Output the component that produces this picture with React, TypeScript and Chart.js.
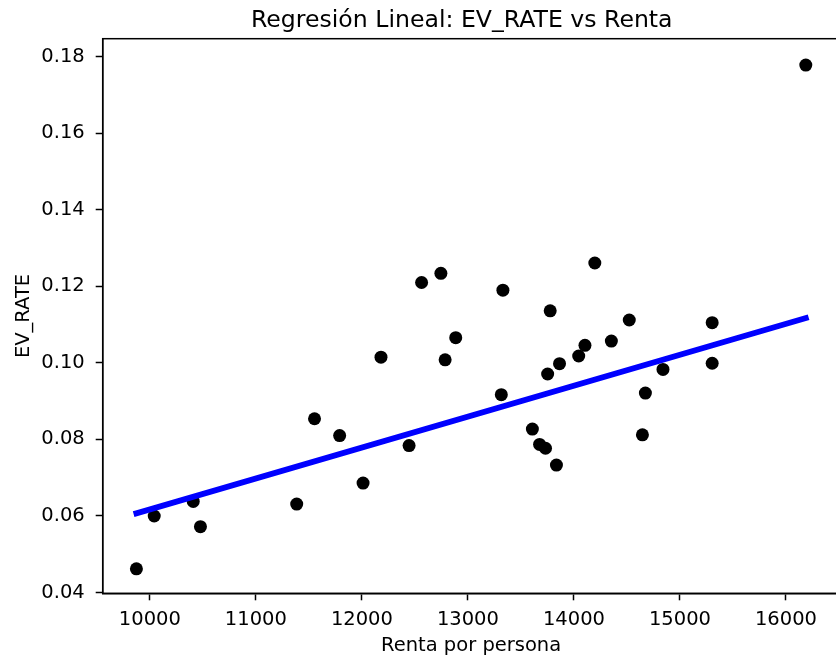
import React, { useEffect, useRef } from "react";
import { Chart, registerables } from "chart.js";

Chart.register(...registerables);

// ---- data ----
const renta = [
  9873, 10041, 10409, 10477, 11385, 11553, 11790, 12011, 12180, 12445,
  12563, 12745, 12785, 12885, 13315, 13330, 13608, 13676, 13732, 13752,
  13776, 13835, 13864, 14045, 14104, 14197, 14353, 14522, 14646, 14674,
  14840, 15304, 15304, 16187,
];
const evRate = [
  0.0462, 0.06, 0.0638, 0.0572, 0.0631, 0.0854, 0.081, 0.0686, 0.1015, 0.0784,
  0.121, 0.1234, 0.1008, 0.1066, 0.0917, 0.119, 0.0827, 0.0787, 0.0777, 0.0971,
  0.1136, 0.0733, 0.0998, 0.1018, 0.1046, 0.1261, 0.1057, 0.1112, 0.0812, 0.0921,
  0.0983, 0.1105, 0.0999, 0.1778,
];
const fitX = [9873, 16187];
const fitY = [0.0607, 0.1117];

const xTicks = [10000, 11000, 12000, 13000, 14000, 15000, 16000];
const yTicks = [0.04, 0.06, 0.08, 0.1, 0.12, 0.14, 0.16, 0.18];
const xLimits = [9555, 16505];
const yLimits = [0.0398, 0.1847];

const titleText = "Regresión Lineal: EV_RATE vs Renta";
const xLabel = "Renta por persona";
const yLabel = "EV_RATE";

const FONT = '"DejaVu Sans", sans-serif';

export default function App() {
  const ref = useRef<HTMLCanvasElement | null>(null);

  useEffect(() => {
    if (!ref.current) return;
    document.body.style.margin = "0";

    const framePlugin = {
      id: "mplFrame",
      afterDatasetsDraw(chart: any) {
        const { ctx, chartArea } = chart;
        ctx.save();
        ctx.strokeStyle = "#000";
        ctx.lineWidth = 1.5;
        ctx.strokeRect(
          chartArea.left,
          chartArea.top,
          chartArea.right - chartArea.left,
          chartArea.bottom - chartArea.top
        );
        ctx.restore();
      },
      afterDraw(chart: any) {
        const { ctx } = chart;
        ctx.save();
        ctx.font = `23.6px ${FONT}`;
        ctx.fillStyle = "#000";
        ctx.textAlign = "left";
        ctx.textBaseline = "alphabetic";
        ctx.fillText(titleText, 251, 26.7);
        ctx.restore();
      },
    };

    const chart = new Chart(ref.current, {
      type: "scatter",
      data: {
        datasets: [
          {
            type: "line",
            label: "fit",
            data: fitX.map((x, i) => ({ x, y: fitY[i] })),
            borderColor: "#0000ff",
            borderWidth: 5.8,
            borderCapStyle: "square",
            pointRadius: 0,
            showLine: true,
            fill: false,
            order: 0,
          } as any,
          {
            type: "scatter",
            label: "data",
            data: renta.map((x, i) => ({ x, y: evRate[i] })),
            backgroundColor: "#000",
            borderWidth: 0,
            pointRadius: 6.5,
            order: 1,
          },
        ],
      },
      options: {
        animation: false,
        responsive: false,
        devicePixelRatio: 1,
        layout: { padding: { top: 38.7, left: 0, right: 0, bottom: 0 } },
        plugins: {
          legend: { display: false },
          tooltip: { enabled: false },
          title: { display: false },
        },
        scales: {
          x: {
            type: "linear",
            min: xLimits[0],
            max: xLimits[1],
            afterFit(scale: any) {
              scale.height = 65.7;
            },
            afterBuildTicks(scale: any) {
              scale.ticks = xTicks.map((v) => ({ value: v }));
            },
            ticks: {
              color: "#000",
              font: { family: FONT, size: 19.5 },
              padding: 7.5,
              maxRotation: 0,
              autoSkip: false,
              callback: (v: any) => String(v),
            },
            grid: {
              display: true,
              drawOnChartArea: false,
              drawTicks: true,
              tickLength: 7,
              tickWidth: 1.5,
              tickColor: "#000",
            },
            border: { display: true, color: "#000", width: 1.5 },
            title: {
              display: true,
              text: xLabel,
              color: "#000",
              font: { family: FONT, size: 19.5 },
              padding: { top: 2, bottom: 1 },
            },
          },
          y: {
            type: "linear",
            min: yLimits[0],
            max: yLimits[1],
            afterFit(scale: any) {
              scale.width = 102.7;
            },
            afterBuildTicks(scale: any) {
              scale.ticks = yTicks.map((v) => ({ value: v }));
            },
            ticks: {
              color: "#000",
              font: { family: FONT, size: 19.5 },
              padding: 11,
              autoSkip: false,
              callback: (v: any) => Number(v).toFixed(2),
            },
            grid: {
              display: true,
              drawOnChartArea: false,
              drawTicks: true,
              tickLength: 7,
              tickWidth: 1.5,
              tickColor: "#000",
            },
            border: { display: true, color: "#000", width: 1.5 },
            title: {
              display: true,
              text: yLabel,
              color: "#000",
              font: { family: FONT, size: 19.5 },
              padding: { top: 12, bottom: 12 },
            },
          },
        },
      },
      plugins: [framePlugin],
    });

    return () => chart.destroy();
  }, []);

  return (
    <div
      style={{
        position: "fixed",
        left: 0,
        top: 0,
        width: 836,
        height: 659,
        overflow: "hidden",
        background: "#fff",
      }}
    >
      <canvas ref={ref} width={846} height={659} style={{ display: "block" }} />
    </div>
  );
}
